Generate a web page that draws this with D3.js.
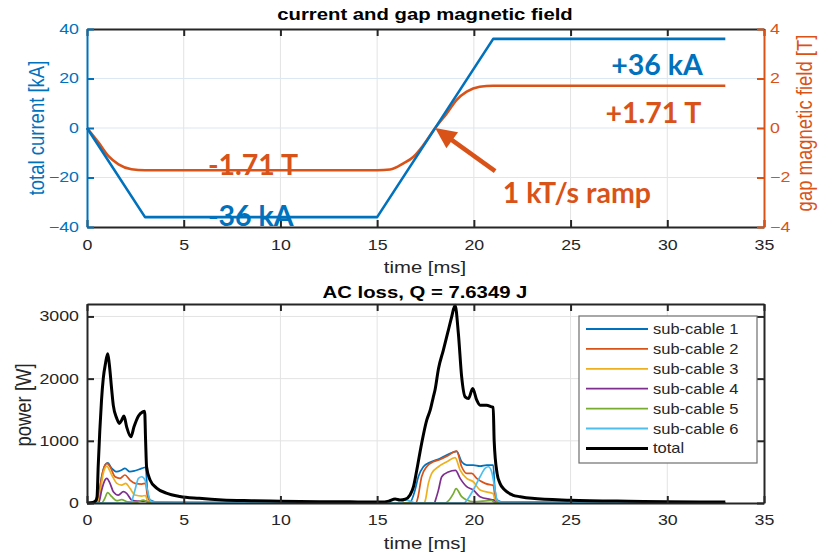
<!DOCTYPE html>
<html><head><meta charset="utf-8">
<script src="https://cdn.jsdelivr.net/npm/d3@7"></script>
<style>
body{margin:0;background:#fff}
svg{display:block}
</style>
</head><body>
<svg id="c" width="820" height="555"></svg>
<script>
// ---------------- data ----------------
const xTicks = [0,5,10,15,20,25,30,35];
const currentTicks = [-40,-20,0,20,40];
const fieldTicks = [-4,-2,0,2,4];
const powerTicks = [0,1000,2000,3000];

const currentT = [0,3,15,21,33];
const currentI = [0,-36,-36,36,36];

const fieldT = [0,0.6,1.1,1.63,2.3,3,15,15.67,16.36,16.88,17.39,18,18.6,19.1,19.63,20.3,21,33];
const fieldB = [0,-0.59,-1.13,-1.47,-1.67,-1.71,-1.71,-1.68,-1.43,-1.16,-0.69,0,0.59,1.13,1.47,1.67,1.71,1.71];

const seriesNames = ["sub-cable 1","sub-cable 2","sub-cable 3","sub-cable 4","sub-cable 5","sub-cable 6","total"];

const sub1 = [[0,0],[0.45,0],[0.58,48],[0.76,422],[0.93,610],[1.07,647],[1.28,557],[1.54,503],[1.79,530],[1.96,557],[2.22,503],[2.48,518],[2.83,557],[3.03,575],[3.12,209],[3.26,48],[3.5,20],[5,8],[10,3],[16.5,0],[16.7,10],[16.96,209],[17.13,422],[17.39,583],[17.74,655],[18.25,717],[18.6,770],[19.11,830],[19.37,663],[19.63,610],[19.97,610],[20.32,594],[20.66,610],[21.0,610],[21.08,250],[21.2,48],[21.5,15],[25,5],[33,2]];
const sub2 = [[0,0],[0.5,0],[0.67,262],[0.84,530],[1.02,637],[1.19,583],[1.45,422],[1.71,396],[1.96,450],[2.22,369],[2.48,316],[2.83,305],[3.03,316],[3.12,120],[3.26,30],[3.5,10],[10,2],[17.0,0],[17.1,80],[17.3,422],[17.56,583],[17.9,663],[18.25,700],[18.6,750],[19.11,835],[19.37,583],[19.63,476],[19.89,476],[20.15,396],[20.58,316],[20.92,289],[21.0,285],[21.1,100],[21.25,20],[33,0]];
const sub3 = [[0,0],[0.55,0],[0.67,155],[0.84,476],[1.02,594],[1.28,450],[1.54,316],[1.79,289],[2.0,316],[2.22,236],[2.48,128],[2.83,112],[3.03,120],[3.12,40],[3.3,10],[17.4,0],[17.48,30],[17.65,316],[17.82,476],[18.17,583],[18.6,663],[19.03,730],[19.29,530],[19.63,396],[19.97,342],[20.32,209],[20.84,166],[21.0,150],[21.1,40],[21.3,5],[33,0]];
const sub4 = [[0,0],[0.6,0],[0.76,209],[0.93,369],[1.02,396],[1.19,316],[1.36,182],[1.62,128],[1.88,182],[2.05,155],[2.31,48],[2.6,30],[3.03,30],[3.2,5],[17.95,0],[18.05,80],[18.17,209],[18.34,422],[18.68,500],[19.05,525],[19.29,396],[19.63,262],[19.97,209],[20.32,101],[20.84,59],[21.0,50],[21.2,5],[33,0]];
const sub5 = [[0,0],[0.75,0],[0.9,60],[1.07,166],[1.28,101],[1.54,37],[1.79,53],[2.1,20],[2.6,15],[2.91,48],[3.1,20],[3.3,5],[18.5,0],[18.7,40],[18.94,150],[19.08,230],[19.37,101],[19.63,48],[20.0,20],[20.9,40],[21.1,10],[33,0]];
const sub6 = [[0,0],[2.25,0],[2.48,209],[2.66,396],[2.83,422],[3.0,369],[3.12,209],[3.26,48],[3.4,10],[16.2,0],[16.45,50],[16.7,30],[17,0],[19.5,0],[19.63,40],[19.97,209],[20.32,422],[20.58,557],[20.75,583],[20.92,503],[21.05,300],[21.2,50],[21.4,5],[33,0]];
const total = [[0,0],[0.3,8],[0.45,35],[0.52,100],[0.58,600],[0.66,1150],[0.75,1650],[0.84,2000],[0.96,2250],[1.07,2400],[1.15,2240],[1.28,1810],[1.36,1570],[1.54,1360],[1.67,1280],[1.79,1330],[1.91,1400],[2.05,1225],[2.27,1065],[2.43,1225],[2.66,1400],[2.88,1465],[2.98,1475],[3.03,1000],[3.08,580],[3.26,370],[3.6,240],[4.1,160],[4.8,105],[5.8,75],[7,50],[8.5,38],[10,30],[12,22],[14,18],[15.2,15],[15.6,30],[15.93,64],[16.18,48],[16.45,60],[16.7,128],[16.88,262],[17.05,530],[17.3,958],[17.56,1330],[17.75,1500],[17.9,1700],[18.0,1830],[18.17,2160],[18.42,2456],[18.68,2777],[18.85,2990],[19.03,3180],[19.2,2724],[19.37,2027],[19.55,1706],[19.72,1680],[19.94,1840],[20.15,1653],[20.32,1573],[20.66,1573],[20.92,1546],[21.0,1540],[21.05,1000],[21.2,476],[21.35,316],[21.6,209],[22.0,128],[22.4,101],[23,75],[25,45],[28,28],[30,22],[33,15]];

// ---------------- styles ----------------
const COL = {blue:"#0072BD", orange:"#D95319", yellow:"#EDB120", purple:"#7E2F8E", green:"#77AC30", cyan:"#4DBEEE", black:"#000000", axis:"#262626"};
const seriesColors = [COL.blue, COL.orange, COL.yellow, COL.purple, COL.green, COL.cyan, COL.black];
const FONT = '"Liberation Sans", Arial, Helvetica, sans-serif';
const ANNO = 'Lato, "Open Sans", sans-serif';
const SX = 1.27;

const svg = d3.select("#c");
svg.append("rect").attr("width",820).attr("height",555).attr("fill","#fff");

function stretch(sel, sx){
  sel.each(function(){
    const t = d3.select(this);
    const x = +t.attr("x") || 0;
    t.attr("x",0).attr("transform",`translate(${x},0) scale(${sx},1)`);
  });
}

function styleAxis(g, color, labelColor){
  g.attr("font-family", FONT).attr("font-size", 14);
  g.select(".domain").attr("stroke", color).attr("stroke-width", 2);
  g.selectAll(".tick line").attr("stroke", color).attr("stroke-width", 2);
  g.selectAll("text").attr("fill", labelColor);
  stretch(g.selectAll("text"), SX);
}

// ================= TOP PLOT =================
const X1 = d3.scaleLinear().domain([0,35]).range([87,764]);
const YI = d3.scaleLinear().domain([-40,40]).range([227,29]);
const YB = d3.scaleLinear().domain([-4,4]).range([227,29]);

const gTop = svg.append("g");
gTop.append("g").selectAll("line").data(xTicks.slice(1,-1)).join("line")
  .attr("x1",d=>X1(d)).attr("x2",d=>X1(d)).attr("y1",YI(-40)).attr("y2",YI(40))
  .attr("stroke","#e3e3e3").attr("stroke-width",1);
gTop.append("g").selectAll("line").data(currentTicks.slice(1,-1)).join("line")
  .attr("x1",X1(0)).attr("x2",X1(35)).attr("y1",d=>YI(d)).attr("y2",d=>YI(d))
  .attr("stroke","#dbe7f3").attr("stroke-width",1);

gTop.append("path").datum(d3.zip(fieldT, fieldB))
  .attr("fill","none").attr("stroke",COL.orange).attr("stroke-width",2.6).attr("stroke-linejoin","round")
  .attr("d", d3.line().x(d=>X1(d[0])).y(d=>YB(d[1])).curve(d3.curveMonotoneX));
gTop.append("path").datum(d3.zip(currentT, currentI))
  .attr("fill","none").attr("stroke",COL.blue).attr("stroke-width",2.6).attr("stroke-linejoin","round")
  .attr("d", d3.line().x(d=>X1(d[0])).y(d=>YI(d[1])));

const tTop = gTop.append("g").attr("transform",`translate(0,${YI(40)})`)
  .call(d3.axisTop(X1).tickValues(xTicks).tickSize(-7).tickSizeOuter(0).tickFormat(""));
styleAxis(tTop, COL.axis, COL.axis);
const tBot = gTop.append("g").attr("transform",`translate(0,${YI(-40)})`)
  .call(d3.axisBottom(X1).tickValues(xTicks).tickSize(-7).tickSizeOuter(0).tickPadding(13));
styleAxis(tBot, COL.axis, COL.axis);
const tLeft = gTop.append("g").attr("transform",`translate(${X1(0)},0)`)
  .call(d3.axisLeft(YI).tickValues(currentTicks).tickSize(-7).tickSizeOuter(0).tickPadding(8));
styleAxis(tLeft, COL.blue, COL.blue);
const tRight = gTop.append("g").attr("transform",`translate(${X1(35)},0)`)
  .call(d3.axisRight(YB).tickValues(fieldTicks).tickSize(-7).tickSizeOuter(0).tickPadding(6));
styleAxis(tRight, COL.orange, COL.orange);

const t1 = svg.append("text").attr("x",425).attr("y",20).attr("text-anchor","middle")
  .attr("font-family",FONT).attr("font-weight","bold").attr("font-size",16).attr("fill","#000")
  .text("current and gap magnetic field");
stretch(t1, SX);
const xl1 = svg.append("text").attr("x",425).attr("y",273).attr("text-anchor","middle")
  .attr("font-family",FONT).attr("font-size",16).attr("fill",COL.axis).text("time [ms]");
stretch(xl1, SX);
svg.append("text").attr("transform","translate(44,128) rotate(-90) scale(1,1.2)").attr("text-anchor","middle")
  .attr("font-family",FONT).attr("font-size",18.5).attr("fill",COL.blue).text("total current [kA]");
svg.append("text").attr("transform","translate(812,123) rotate(-90) scale(1,1.2)").attr("text-anchor","middle")
  .attr("font-family",FONT).attr("font-size",18.5).attr("fill",COL.orange).text("gap magnetic field [T]");

function anno(txt, t, y, scale, color){
  svg.append("text").attr("x",X1(t)).attr("y",scale(y))
    .attr("font-family",ANNO).attr("font-weight","bold").attr("font-size",28.5).attr("fill",color).text(txt);
}
anno("-1.71 T", 6.25, -1.9, YB, COL.orange);
anno("-36 kA", 6.25, -39.6, YI, COL.blue);
anno("+36 kA", 27.1, 21.4, YI, COL.blue);
anno("+1.71 T", 26.8, 0.2, YB, COL.orange);
anno("1 kT/s ramp", 21.5, -3.03, YB, COL.orange);

{
  const tail = [X1(21.1), YB(-1.74)], tip = [X1(18), YB(0)];
  const dx = tip[0]-tail[0], dy = tip[1]-tail[1], L = Math.hypot(dx,dy);
  const ux = dx/L, uy = dy/L, px = -uy, py = ux;
  const hl = 21, hw = 10;
  const base = [tip[0]-ux*hl, tip[1]-uy*hl];
  svg.append("line").attr("x1",tail[0]).attr("y1",tail[1]).attr("x2",base[0]+ux*2).attr("y2",base[1]+uy*2)
    .attr("stroke",COL.orange).attr("stroke-width",4.5);
  svg.append("path").attr("d",`M${tip[0]},${tip[1]}L${base[0]+px*hw},${base[1]+py*hw}L${base[0]-px*hw},${base[1]-py*hw}Z`)
    .attr("fill",COL.orange);
}

// ================= BOTTOM PLOT =================
const X2 = d3.scaleLinear().domain([0,35]).range([87,764]);
const YP = d3.scaleLinear().domain([0,3200]).range([503,304]);
const gBot = svg.append("g");
gBot.append("g").selectAll("line").data(xTicks.slice(1,-1)).join("line")
  .attr("x1",d=>X2(d)).attr("x2",d=>X2(d)).attr("y1",YP(0)).attr("y2",YP(3200))
  .attr("stroke","#e3e3e3").attr("stroke-width",1);
gBot.append("g").selectAll("line").data(powerTicks.slice(1)).join("line")
  .attr("x1",X2(0)).attr("x2",X2(35)).attr("y1",d=>YP(d)).attr("y2",d=>YP(d))
  .attr("stroke","#e3e3e3").attr("stroke-width",1);

const allSeries = [sub1, sub2, sub3, sub4, sub5, sub6, total];
const pLine = d3.line().x(d=>X2(d[0])).y(d=>YP(d[1])).curve(d3.curveMonotoneX);
gBot.append("g").selectAll("path").data(allSeries).join("path")
  .attr("fill","none").attr("stroke",(d,i)=>seriesColors[i])
  .attr("stroke-width",(d,i)=>i===6?3:1.7).attr("stroke-linejoin","round")
  .attr("d", pLine);

const bTop = gBot.append("g").attr("transform",`translate(0,${YP(3200)})`)
  .call(d3.axisTop(X2).tickValues(xTicks).tickSize(-7).tickSizeOuter(0).tickFormat(""));
styleAxis(bTop, COL.axis, COL.axis);
const bBot = gBot.append("g").attr("transform",`translate(0,${YP(0)})`)
  .call(d3.axisBottom(X2).tickValues(xTicks).tickSize(-7).tickSizeOuter(0).tickPadding(12));
styleAxis(bBot, COL.axis, COL.axis);
const bLeft = gBot.append("g").attr("transform",`translate(${X2(0)},0)`)
  .call(d3.axisLeft(YP).tickValues(powerTicks).tickSize(-7).tickSizeOuter(0).tickPadding(8).tickFormat(d3.format("d")));
styleAxis(bLeft, COL.axis, COL.axis);
const bRight = gBot.append("g").attr("transform",`translate(${X2(35)},0)`)
  .call(d3.axisRight(YP).tickValues(powerTicks).tickSize(-7).tickSizeOuter(0).tickFormat(""));
styleAxis(bRight, COL.axis, COL.axis);

const t2 = svg.append("text").attr("x",425).attr("y",298).attr("text-anchor","middle")
  .attr("font-family",FONT).attr("font-weight","bold").attr("font-size",16).attr("fill","#000")
  .text("AC loss, Q = 7.6349 J");
stretch(t2, SX);
const xl2 = svg.append("text").attr("x",425).attr("y",549).attr("text-anchor","middle")
  .attr("font-family",FONT).attr("font-size",16).attr("fill",COL.axis).text("time [ms]");
stretch(xl2, SX);
svg.append("text").attr("transform","translate(31,405) rotate(-90) scale(1,1.2)").attr("text-anchor","middle")
  .attr("font-family",FONT).attr("font-size",18.5).attr("fill",COL.axis).text("power [W]");

const lg = svg.append("g");
lg.append("rect").attr("x",579).attr("y",316).attr("width",178).attr("height",147)
  .attr("fill","#fff").attr("stroke","#6e6e6e").attr("stroke-width",1.2);
const rows = lg.selectAll("g.row").data(seriesNames).join("g").attr("class","row")
  .attr("transform",(d,i)=>`translate(0,${329 + i*19.9})`);
rows.append("line").attr("x1",586).attr("x2",648).attr("y1",0).attr("y2",0)
  .attr("stroke",(d,i)=>seriesColors[i]).attr("stroke-width",(d,i)=>i===6?3:1.8);
const lt = rows.append("text").attr("x",653).attr("y",0).attr("dy","0.36em")
  .attr("font-family",FONT).attr("font-size",14).attr("fill",COL.axis).text(d=>d);
stretch(lt, 1.18);
</script>
</body></html>
